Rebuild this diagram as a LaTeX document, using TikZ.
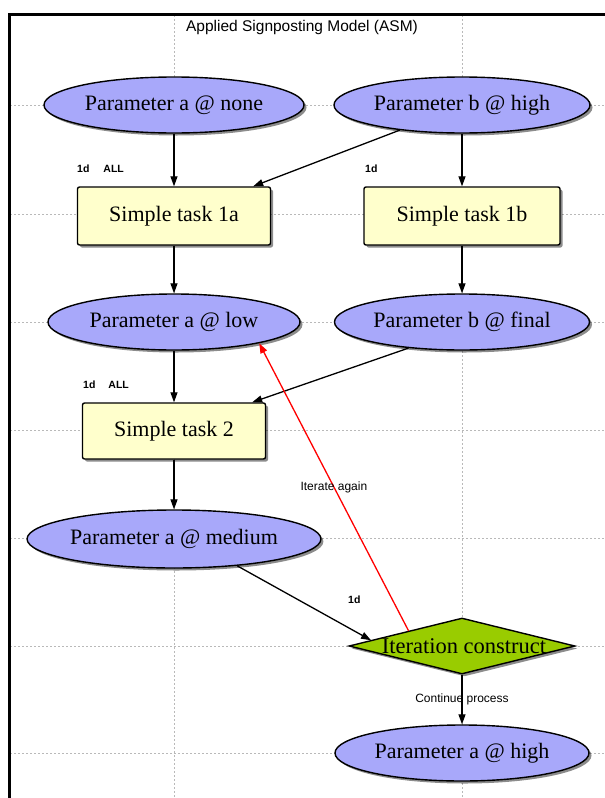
\documentclass[tikz,border=0pt]{standalone}
\usepackage{fontspec}
\setmainfont{Liberation Serif}
\setsansfont{Liberation Sans}
\usetikzlibrary{shapes.geometric,arrows.meta,shadows,calc}

\definecolor{paramfill}{RGB}{168,168,250}
\definecolor{taskfill}{RGB}{255,255,204}
\definecolor{decfill}{RGB}{153,204,0}
\definecolor{gridgray}{RGB}{185,185,185}

\tikzset{
  softshadow/.style={drop shadow={shadow xshift=2.5pt, shadow yshift=-2.5pt, fill=black, opacity=0.45}},
  param/.style={ellipse, draw=black, line width=1.4pt, fill=paramfill, inner sep=0pt,
    minimum height=56pt, font=\fontsize{22}{26}\selectfont, softshadow},
  task/.style={rectangle, rounded corners=2pt, draw=black, line width=1.4pt, fill=taskfill,
    inner sep=0pt, minimum height=58pt, font=\fontsize{22}{26}\selectfont, softshadow},
  decision/.style={diamond, draw=black, line width=1.4pt, fill=decfill, inner sep=0pt,
    minimum width=226pt, minimum height=56pt},
  dectext/.style={inner sep=0pt, font=\fontsize{22.5}{26}\selectfont},
  flow/.style={draw=black, line width=1.3pt, -{Triangle[length=10pt,width=7pt]}},
  back/.style={flow, draw=red, -{Triangle[length=10pt,width=7pt,fill=red]}},
  tag/.style={inner sep=0pt, anchor=west, font=\sffamily\bfseries\fontsize{10.5}{12}\selectfont},
  note/.style={inner sep=0pt, font=\sffamily\fontsize{12}{14}\selectfont},
  gridline/.style={draw=gridgray, dash pattern=on 2pt off 2pt, line width=0.6pt},
  frameline/.style={draw=black, line width=3pt},
}

\begin{document}
\begin{tikzpicture}[x=1pt, y=-1pt]
  \useasboundingbox (0,0) rectangle (605,798);
  \fill[white] (0,0) rectangle (605,798);

  % background grid through the row and column centres
  \foreach \y in {105,214,322,430,538,646,753}
    \draw[gridline] (10,\y) -- (605,\y);
  \foreach \x in {174,462}
    \draw[gridline] (\x,15) -- (\x,798);

  % frame
  \draw[frameline] (9,798) -- (9,14) -- (605,14);

  % title
  \node[inner sep=0pt, font=\sffamily\fontsize{15.5}{18}\selectfont] (title) at (302,27)
    {Applied Signposting Model (ASM)};

  % parameters, tasks and the iteration construct
  \node[param, minimum width=260pt] (anone)  at (174,105) {Parameter a @ none};
  \node[param, minimum width=256pt] (bhigh)  at (462,105) {Parameter b @ high};
  \node[task,  minimum width=193pt] (t1a)    at (174,216) {Simple task 1a};
  \node[task,  minimum width=196pt] (t1b)    at (462,216) {Simple task 1b};
  \node[param, minimum width=252pt] (alow)   at (174,322) {Parameter a @ low};
  \node[param, minimum width=255pt] (bfinal) at (462,322) {Parameter b @ final};
  \node[task,  minimum width=183pt, minimum height=56pt] (t2) at (174,431) {Simple task 2};
  \node[param, minimum width=290pt, minimum height=58pt] (amed) at (174,539) {Parameter a @ medium};
  \node[decision, softshadow] (iter) at (462,646) {};
  \node[dectext] (itertext) at (464,646) {Iteration construct};
  \node[param, minimum width=254pt] (ahigh)  at (462,753) {Parameter a @ high};

  % duration / input tags
  \node[tag] (tag1a) at (77,169)  {1d\hspace{14pt}ALL};
  \node[tag] (tag1b) at (365,169) {1d};
  \node[tag] (tag2)  at (83,385)  {1d\hspace{13pt}ALL};
  \node[tag] (tagit) at (348,600) {1d};

  % connectors
  \draw[flow] (anone) -- (t1a);
  \draw[flow] (bhigh.202) -- ($(t1a.north east)+(-18,0)$);
  \draw[flow] (bhigh) -- (t1b);
  \draw[flow] (t1a) -- (alow);
  \draw[flow] (t1b) -- (bfinal);
  \draw[flow] (alow) -- (t2);
  \draw[flow] (bfinal.206) -- ($(t2.north east)+(-14,0)$);
  \draw[flow] (t2) -- (amed);
  \draw[flow] (amed.337) -- ($(iter.west)!0.2!(iter.north)$);
  \draw[back] ($(iter.west)!0.53!(iter.north)$) -- node[note, pos=0.5] {Iterate again} (alow.346);
  \draw[flow] (iter) -- node[note] {Continue process} (ahigh);
\end{tikzpicture}
\end{document}
